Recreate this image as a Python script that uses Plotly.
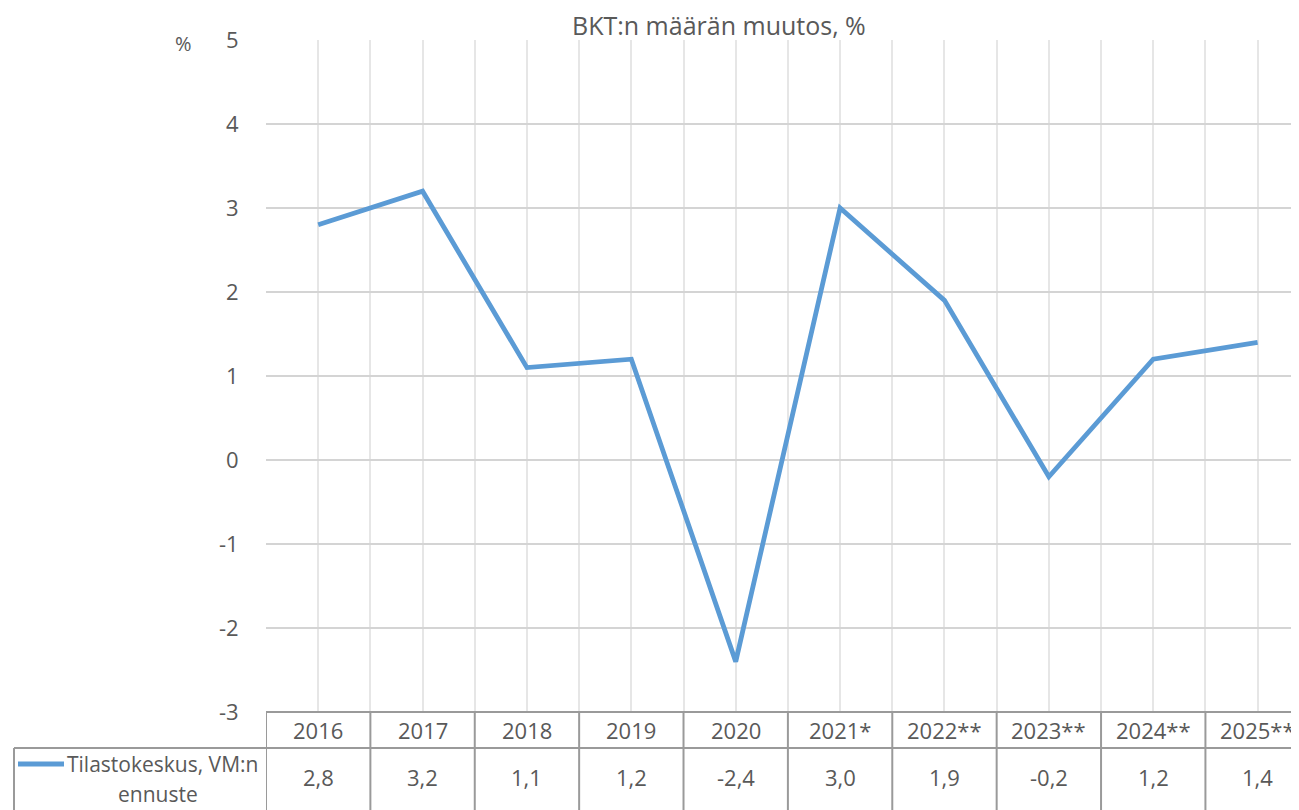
import plotly.graph_objects as go

# ---- data ----
categories = ["2016", "2017", "2018", "2019", "2020", "2021*", "2022**", "2023**", "2024**", "2025**"]
values = [2.8, 3.2, 1.1, 1.2, -2.4, 3.0, 1.9, -0.2, 1.2, 1.4]
value_labels = ["2,8", "3,2", "1,1", "1,2", "-2,4", "3,0", "1,9", "-0,2", "1,2", "1,4"]
series_name = "Tilastokeskus, VM:n ennuste"
title_text = "BKT:n määrän muutos, %"
y_ticks = [-3, -2, -1, 0, 1, 2, 3, 4, 5]

# ---- layout geometry (screen pixels; page body has an 8px margin) ----
OFF = 8
W, H = 1299 - OFF, 810 - OFF
PLOT_L, PLOT_T, PLOT_B = 266, 40, 712   # screen coords
L = PLOT_L - OFF
T = PLOT_T - OFF
B = H - (PLOT_B - OFF)
R = 0
PW = W - L - R
PH = H - T - B
FONT = "Open Sans"
TXT = "#595959"
LINE_BLUE = "#5b9bd5"
GRID = "#d4d4d4"
VGRID = "#e6e6e6"
BORDER = "#9a9a9a"

def px_x(p):
    return (p - PLOT_L) / PW

def px_y(p):
    return (PLOT_B - p) / PH

xs = list(range(len(categories)))
x_right = (1299 - 318) / 104.4  # plot is cropped at the right edge

fig = go.Figure()
fig.add_trace(go.Scatter(
    x=xs, y=values, mode="lines", name=series_name,
    line=dict(color=LINE_BLUE, width=4.8), showlegend=False,
))

shapes = []
annotations = []

def note(x, y, text, size, xref="paper", xanchor="center"):
    annotations.append(dict(x=x, y=y, xref=xref, yref="paper", text=text,
                            xanchor=xanchor, yanchor="middle", showarrow=False,
                            font=dict(family=FONT, size=size, color=TXT)))

# table: header row (years) and data row
row1_top, row1_bot, row2_bot = 712, 748, 815
shapes.append(dict(type="line", xref="paper", yref="paper",
                   x0=0, x1=1.0, y0=0, y1=0,
                   line=dict(color=BORDER, width=2)))
for i in range(len(categories) + 1):
    shapes.append(dict(type="line", xref="x", yref="paper",
                       x0=i - 0.5, x1=i - 0.5, y0=px_y(row1_top), y1=px_y(row2_bot),
                       line=dict(color=BORDER, width=2)))
shapes.append(dict(type="line", xref="paper", yref="paper",
                   x0=px_x(14), x1=1.0, y0=px_y(row1_bot), y1=px_y(row1_bot),
                   line=dict(color=BORDER, width=2)))
shapes.append(dict(type="line", xref="paper", yref="paper",
                   x0=px_x(14), x1=px_x(14), y0=px_y(row1_bot), y1=px_y(row2_bot),
                   line=dict(color=BORDER, width=2)))
# legend key inside table
shapes.append(dict(type="line", xref="paper", yref="paper",
                   x0=px_x(18), x1=px_x(64), y0=px_y(764), y1=px_y(764),
                   line=dict(color=LINE_BLUE, width=4.8)))

for i, (c, v) in enumerate(zip(categories, value_labels)):
    note(i, px_y(730), c, 22, xref="x")
    note(i, px_y(777), v, 22, xref="x")

note(px_x(65), px_y(764), "Tilastokeskus, VM:n", 21, xanchor="left")
note(px_x(158), px_y(794), "ennuste", 21)
note(px_x(183), px_y(44), "%", 20)
note(px_x(719), px_y(25), title_text, 25)

fig.update_layout(
    width=W, height=H,
    margin=dict(l=L, r=R, t=T, b=B, pad=0),
    paper_bgcolor="white", plot_bgcolor="white",
    showlegend=False,
    shapes=shapes,
    annotations=annotations,
    xaxis=dict(range=[-0.5, x_right], tick0=-0.5, dtick=0.5, showticklabels=False,
               showgrid=True, gridcolor=VGRID, gridwidth=1.5, zeroline=False,
               showline=False, ticks=""),
    yaxis=dict(range=[-3, 5], tickvals=y_ticks, ticktext=[str(t) for t in y_ticks],
               showgrid=True, gridcolor=GRID, gridwidth=2, zeroline=False,
               showline=False, ticks="outside", ticklen=22, tickcolor="rgba(0,0,0,0)",
               tickfont=dict(family=FONT, size=22, color=TXT)),
)

fig.write_html("out.html")
